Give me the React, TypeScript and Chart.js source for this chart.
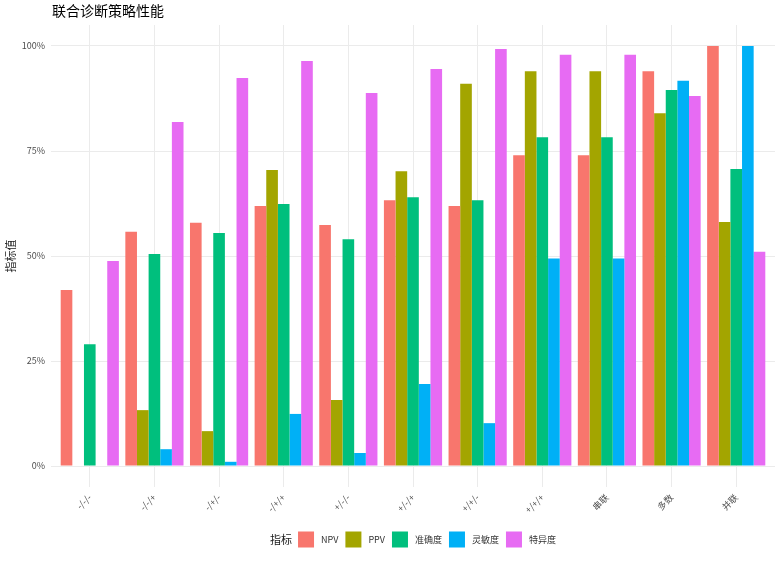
import { useEffect, useRef } from "react";
import { Chart, registerables } from "chart.js";

Chart.register(...registerables);

const categories = ["-/-/-", "-/-/+", "-/+/-", "-/+/+", "+/-/-", "+/-/+", "+/+/-", "+/+/+", "串联", "多数", "并联"];
const npv = [41.9, 55.8, 57.9, 61.9, 57.4, 63.3, 61.9, 74.0, 74.0, 94.0, 100];
const ppv = [0, 13.3, 8.3, 70.5, 15.7, 70.2, 91.0, 94.0, 94.0, 84.0, 58.1];
const accuracy = [29.0, 50.5, 55.5, 62.4, 54.0, 64.0, 63.3, 78.3, 78.3, 89.5, 70.7];
const sensitivity = [0, 4.0, 1.0, 12.4, 3.1, 19.5, 10.2, 49.4, 49.4, 91.7, 100];
const specificity = [48.8, 81.9, 92.4, 96.4, 88.8, 94.5, 99.3, 97.9, 97.9, 88.1, 51.0];

const seriesNames = ["NPV", "PPV", "准确度", "灵敏度", "特异度"];
const seriesColors = ["#F8766D", "#A3A500", "#00BF7D", "#00B0F6", "#E76BF3"];
const yTicks = [0, 25, 50, 75, 100];
const titleText = "联合诊断策略性能";
const yTitleText = "指标值";
const legendTitleText = "指标";

const FONT = '"Noto Sans CJK SC", "Noto Sans", sans-serif';

const decorPlugin = {
  id: "decor",
  afterDraw(chart: any) {
    const ctx = chart.ctx as CanvasRenderingContext2D;
    ctx.save();
    // title
    ctx.fillStyle = "#000000";
    ctx.font = `14px ${FONT}`;
    ctx.textAlign = "left";
    ctx.textBaseline = "middle";
    ctx.fillText(titleText, 52, 11);

    // legend
    const cy = 539.5;
    const box = 16;
    ctx.font = `11px ${FONT}`;
    const titleW = ctx.measureText(legendTitleText).width;
    ctx.font = `9px ${FONT}`;
    const textWs = seriesNames.map((n) => ctx.measureText(n).width);
    const gapTitle = 6;
    const gapBox = 7;
    const gapItem = 7;
    let total = titleW + gapTitle;
    textWs.forEach((w, i) => {
      total += box + gapBox + w + (i < textWs.length - 1 ? gapItem : 0);
    });
    const area = chart.chartArea;
    let x = (area.left + area.right) / 2 - total / 2;
    ctx.font = `11px ${FONT}`;
    ctx.fillStyle = "#1a1a1a";
    ctx.fillText(legendTitleText, x, cy);
    x += titleW + gapTitle;
    ctx.font = `9px ${FONT}`;
    seriesNames.forEach((n, i) => {
      ctx.fillStyle = seriesColors[i];
      ctx.fillRect(x, cy - box / 2, box, box);
      x += box + gapBox;
      ctx.fillStyle = "#333333";
      ctx.fillText(n, x, cy);
      x += textWs[i] + gapItem;
    });
    ctx.restore();
  },
};

export default function App() {
  const ref = useRef<HTMLCanvasElement>(null);
  useEffect(() => {
    document.body.style.margin = "0";
    const values = [npv, ppv, accuracy, sensitivity, specificity];
    const chart = new Chart(ref.current as HTMLCanvasElement, {
      type: "bar",
      data: {
        datasets: seriesNames.map((name, k) => ({
          label: name,
          data: values[k].map((v, i) => ({ x: i, y: v })),
          backgroundColor: seriesColors[k],
          borderColor: seriesColors[k],
          borderWidth: 0,
          categoryPercentage: 0.9,
          barPercentage: 1,
        })),
      },
      options: {
        responsive: false,
        animation: false,
        layout: { padding: { left: 0, right: 6, top: 25, bottom: 34 } },
        plugins: {
          legend: { display: false },
          title: { display: false },
          tooltip: { enabled: false },
        },
        scales: {
          x: {
            type: "linear",
            min: -0.6,
            max: 10.6,
            offset: false,
            afterBuildTicks: (s: any) => {
              s.ticks = categories.map((_, i) => ({ value: i }));
            },
            afterFit: (s: any) => {
              s.height = 40;
            },
            ticks: {
              autoSkip: false,
              maxRotation: 45,
              minRotation: 45,
              padding: 5,
              color: "#4d4d4d",
              font: { family: FONT, size: 9 },
              callback: (v: any) => categories[Math.round(Number(v))] ?? "",
            },
            grid: { color: "#ebebeb", lineWidth: 1, drawTicks: false, offset: false },
            border: { display: false },
          },
          y: {
            min: -5,
            max: 105,
            afterBuildTicks: (s: any) => {
              s.ticks = yTicks.map((v) => ({ value: v }));
            },
            afterFit: (s: any) => {
              s.width = 51;
            },
            ticks: {
              padding: 6,
              color: "#4d4d4d",
              font: { family: FONT, size: 9 },
              callback: (v: any) => `${v}%`,
            },
            grid: { color: "#ebebeb", lineWidth: 1, drawTicks: false },
            border: { display: false },
            title: {
              display: true,
              text: yTitleText,
              color: "#1a1a1a",
              font: { family: FONT, size: 11 },
              padding: { top: 4, bottom: 0 },
            },
          },
        },
      },
      plugins: [decorPlugin],
    });
    return () => chart.destroy();
  }, []);
  return <canvas ref={ref} width={781} height={561} style={{ display: "block" }} />;
}
